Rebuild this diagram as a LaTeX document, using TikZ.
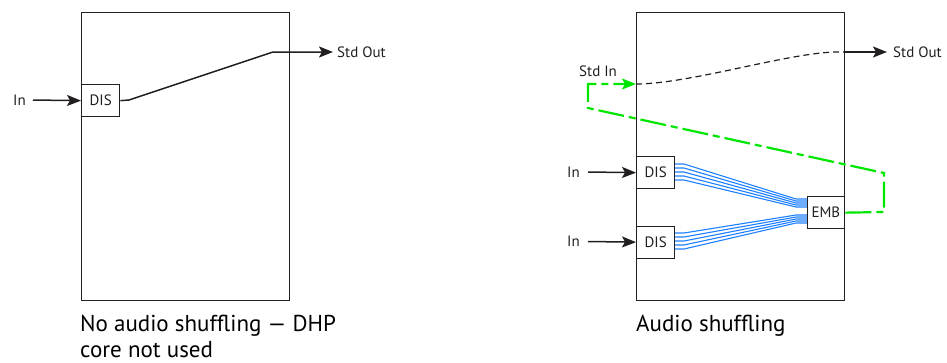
\documentclass[tikz,border=0pt]{standalone}
\usepackage{fontspec}
\setmainfont{PT Sans}
\usetikzlibrary{arrows.meta}
\definecolor{ink}{RGB}{35,31,32}
\definecolor{sigblue}{RGB}{30,128,255}
\definecolor{siggreen}{RGB}{0,230,0}
\begin{document}
\begin{tikzpicture}[x=1pt,y=-1pt,
  panel/.style={draw=ink, line width=1.4pt, minimum width=208pt, minimum height=288pt, inner sep=0pt, anchor=north west},
  blk/.style={draw=ink, line width=1.3pt, fill=white, inner sep=0pt, minimum width=38pt, minimum height=32pt, anchor=north west, font=\fontsize{15}{17}\selectfont, text=ink},
  lbl/.style={font=\fontsize{15}{17}\selectfont, text=ink, inner sep=0pt, anchor=base west},
  captext/.style={font=\fontsize{23}{29}\selectfont, text=black, inner sep=0pt, anchor=base west},
  wire/.style={draw=ink, line width=1.5pt},
  arr/.style={wire, -{Stealth[length=14pt,width=11pt,inset=3pt]}},
  bus/.style={draw=sigblue, line width=1.1pt},
  loopline/.style={draw=siggreen, line width=2.2pt, dash pattern=on 26pt off 5pt on 7pt off 5pt},
  stdline/.style={draw=ink, line width=1.2pt, dash pattern=on 6pt off 4pt}
]
\useasboundingbox (0,0) rectangle (947,362);
% ---------- left panel ----------
\node[panel] (L) at (81,12) {};
\node[blk] (Ldis) at (81,84) {DIS};
\node[lbl] (Lin) at (13,105) {In};
\node[lbl] (Lout) at (337,57) {Std Out};
\coordinate (Lsrc) at (33,100);
\coordinate (Lk1) at (129,100);
\coordinate (Lk2) at (273,52);
\coordinate (Ltip) at (333,52);
\draw[arr] (Lsrc) -- (Ldis.west);
\draw[arr] (Ldis.east) -- (Lk1) -- (Lk2) -- (Ltip);
\node[captext] (c1) at (80,331) {No audio shuffling — DHP};
\node[captext] (c2) at (80,357) {core not used};
% ---------- right panel ----------
\node[panel] (R) at (636,12) {};
\coordinate (Rk1) at (588,108);
\coordinate (Rk0) at (588,84);
\coordinate (Rin) at (636,84);
\coordinate (Rk3) at (884,173);
\coordinate (Rk4) at (884,212);
\coordinate (Rend) at (838,52);
\coordinate (Rout0) at (844,52);
\coordinate (Rtip) at (887,52);
% buses
\foreach \i in {0,...,4}{
  \pgfmathsetmacro\ya{164+4*\i}
  \pgfmathsetmacro\yb{199+2*\i}
  \pgfmathsetmacro\yc{233+4*\i}
  \pgfmathsetmacro\yd{215+2*\i}
  \draw[bus] (674,\ya) -- (684,\ya) -- (796,\yb) -- (807,\yb);
  \draw[bus] (674,\yc) -- (684,\yc) -- (796,\yd) -- (807,\yd);
}
\node[blk] (D1) at (636,156) {DIS};
\node[blk] (D2) at (636,225.5) {DIS};
\node[blk, minimum width=37.5pt] (E) at (806.5,196) {EMB};
\node[lbl] (In1) at (567,177) {In};
\node[lbl] (In2) at (567,246) {In};
\node[lbl] (Sin) at (579,76) {Std In};
\node[lbl] (Rout) at (893,57) {Std Out};
\coordinate (S1) at (588,172);
\coordinate (S2) at (588,241.5);
\draw[arr] (S1) -- (D1.west);
\draw[arr] (S2) -- (D2.west);
\draw[stdline] (Rin) .. controls (690,84) and (790,52) .. (Rend) -- (Rout0);
\draw[arr] (Rout0) -- (Rtip);
\draw[loopline, -{Stealth[length=14pt,width=11pt,inset=3pt]}] (E.east) -- (Rk4) -- (Rk3) -- (Rk1) -- (Rk0) -- (Rin);
\node[captext] (c3) at (636,331) {Audio shuffling};
\end{tikzpicture}
\end{document}
